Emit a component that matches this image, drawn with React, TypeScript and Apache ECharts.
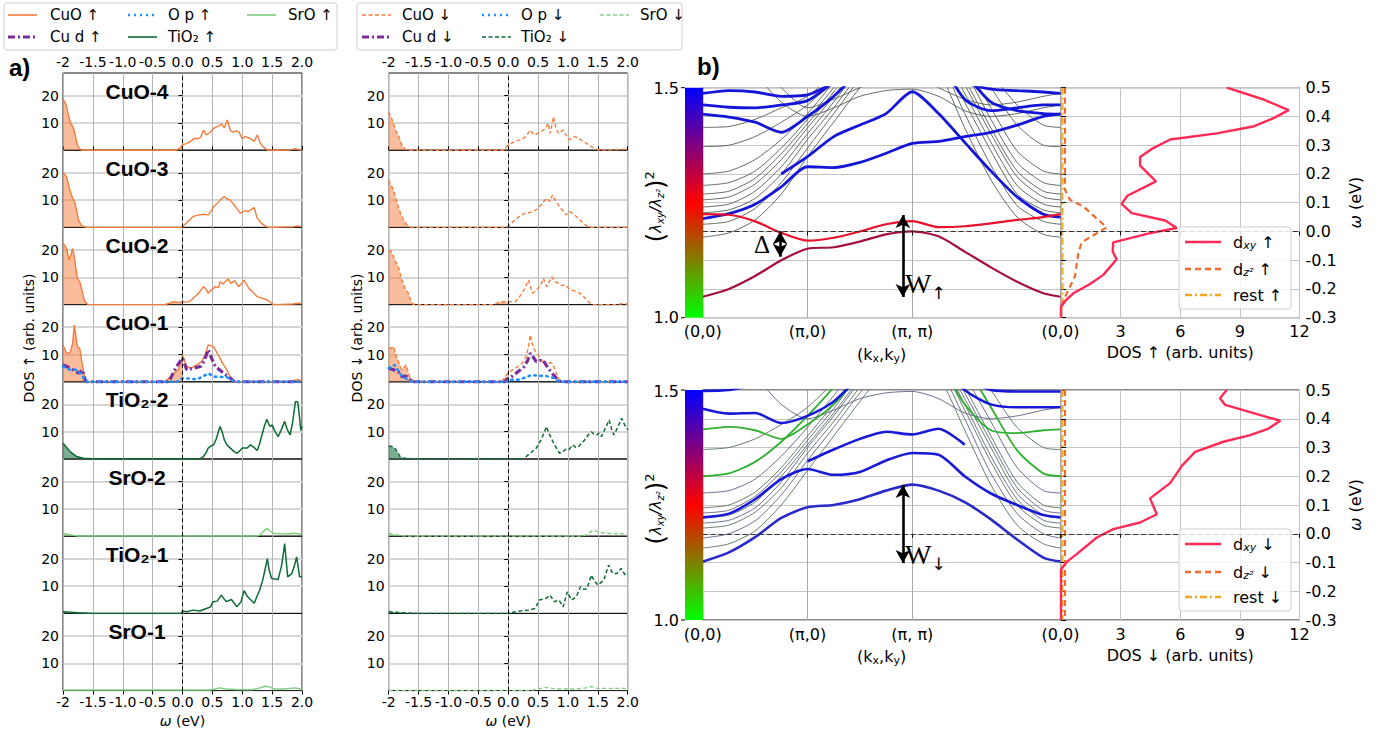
import React, { useEffect, useRef } from "react";
import * as echarts from "echarts";

// ---------------- DATA ----------------
const ROW_LABELS = ["CuO-4", "CuO-3", "CuO-2", "CuO-1", "TiO₂-2", "SrO-2", "TiO₂-1", "SrO-1"];

const cuo4Up = [[-2,18.7],[-1.95,16.8],[-1.9,12],[-1.87,9.8],[-1.83,8.4],[-1.8,6],[-1.76,2],[-1.72,0.5],[-1.68,0],[-0.1,0],[-0.04,0.8],[0,2],[0.05,2.3],[0.1,2.7],[0.15,3.5],[0.2,4.4],[0.25,4.2],[0.3,4.6],[0.35,7.3],[0.4,5.6],[0.45,6.3],[0.5,7.5],[0.55,8.4],[0.6,8.8],[0.65,9.6],[0.7,8.2],[0.75,11.1],[0.8,7.2],[0.85,6.6],[0.9,7.1],[0.95,6.5],[1.0,4.2],[1.05,5],[1.1,4.6],[1.15,4.1],[1.2,3.2],[1.25,5.6],[1.3,2.6],[1.35,1.3],[1.42,0.1],[1.5,0],[1.8,0.1],[1.88,0.6],[1.95,0.2],[2,0]];
const cuo4Dn = [[-2,14.1],[-1.96,12],[-1.92,10],[-1.89,7.4],[-1.84,5.6],[-1.78,1.9],[-1.72,0.3],[-1.68,0],[-0.08,0],[-0.03,1.3],[0.05,2.5],[0.12,3.3],[0.2,3.8],[0.27,4.5],[0.32,5.8],[0.37,7.4],[0.42,5.9],[0.45,5.6],[0.52,6.5],[0.59,7.4],[0.64,8.6],[0.67,9.9],[0.7,6.2],[0.73,9],[0.76,12.3],[0.8,8],[0.84,6.2],[0.88,6.8],[0.92,7.4],[0.97,5.5],[1.02,3.8],[1.07,4.4],[1.12,5],[1.19,4.2],[1.26,3.2],[1.35,2],[1.42,0.9],[1.48,0.3],[1.55,0],[1.85,0.2],[1.95,0.4],[2,0.3]];
const cuo3Up = [[-2,20.1],[-1.94,18.6],[-1.9,15],[-1.86,11.9],[-1.8,8.9],[-1.77,6],[-1.74,2.7],[-1.7,1],[-1.66,0.3],[-1.6,0],[-0.02,0],[0,0.3],[0.06,1.5],[0.12,2.8],[0.18,4],[0.25,4.5],[0.35,4.8],[0.43,4.6],[0.48,6],[0.52,7.6],[0.58,8.8],[0.63,10],[0.66,10.7],[0.7,11.3],[0.75,10.4],[0.8,10],[0.86,8.3],[0.92,6.6],[0.97,5.2],[1.05,6.2],[1.1,5.8],[1.15,6.5],[1.2,7.3],[1.25,3.4],[1.32,1.5],[1.4,0.3],[1.45,0],[1.85,0.2],[1.92,0.5],[2,0.3]];
const cuo3Dn = [[-2,17.4],[-1.96,15.5],[-1.92,13.7],[-1.88,10.5],[-1.84,7.6],[-1.8,5],[-1.75,2.7],[-1.7,1],[-1.67,0.5],[-1.62,0],[-0.03,0],[0,0.5],[0.1,2.5],[0.2,4.2],[0.28,5.2],[0.35,5.4],[0.42,5.8],[0.5,7],[0.57,8.8],[0.64,10.7],[0.7,9.5],[0.74,11.9],[0.8,9.5],[0.86,7.6],[0.92,6],[0.97,4.6],[1.03,5.8],[1.08,5],[1.14,4],[1.22,2.3],[1.3,0.8],[1.36,0.2],[1.42,0],[2,0]];
const cuo2Up = [[-2,22.5],[-1.94,20.6],[-1.9,16.4],[-1.87,18],[-1.84,20.6],[-1.82,18.8],[-1.79,14],[-1.76,9.6],[-1.72,8.4],[-1.68,5],[-1.65,2],[-1.62,0.7],[-1.58,0],[-0.3,0],[-0.2,0.6],[-0.15,1.1],[-0.05,0.8],[0,1.1],[0.06,0.9],[0.12,1.1],[0.18,2.3],[0.24,3.5],[0.3,5],[0.35,6.6],[0.4,5.4],[0.43,4.2],[0.49,5.5],[0.55,6.6],[0.6,6.2],[0.63,8.4],[0.68,7.5],[0.72,8.5],[0.76,9.4],[0.81,7.8],[0.87,8.8],[0.94,6.6],[0.98,7.5],[1.03,9],[1.07,7.5],[1.11,6],[1.18,4.5],[1.25,2.9],[1.35,2.2],[1.42,1.7],[1.5,0.2],[1.55,0],[1.85,0.2],[1.95,0.5],[2,0.3]];
const cuo2Dn = [[-2,20],[-1.96,19.5],[-1.92,17.6],[-1.88,15.5],[-1.84,13.9],[-1.78,9],[-1.72,5.4],[-1.67,4.2],[-1.63,1.5],[-1.6,0.2],[-1.55,0],[-0.25,0],[-0.15,0.8],[-0.1,1.1],[0,1],[0.08,1.1],[0.12,1.1],[0.18,2.5],[0.23,4.2],[0.28,6],[0.34,9],[0.38,6],[0.41,4.2],[0.46,5.2],[0.5,6],[0.55,7.5],[0.59,9.6],[0.62,7.5],[0.65,6.6],[0.69,8.5],[0.73,10.2],[0.78,8.5],[0.84,7.8],[0.9,7],[0.95,7.2],[1.0,6.2],[1.06,5.4],[1.13,4.8],[1.2,4.2],[1.28,2.5],[1.37,0.5],[1.42,0],[1.8,0],[1.9,0.3],[2,0.2]];
const cuo1Up = [[-2,13.5],[-1.97,12],[-1.94,10.5],[-1.88,10.7],[-1.84,14],[-1.81,20.8],[-1.78,16],[-1.76,12.9],[-1.72,12.3],[-1.68,6.8],[-1.65,3],[-1.63,0.7],[-1.6,0],[-0.3,0],[-0.26,0.7],[-0.2,1.8],[-0.15,3.1],[-0.07,4.4],[-0.03,6.5],[0,9.8],[0.03,8],[0.07,5.6],[0.15,5],[0.2,5.8],[0.24,6.2],[0.32,7.4],[0.38,10],[0.43,13.5],[0.48,13.2],[0.52,12.9],[0.58,10.5],[0.63,8.6],[0.68,6.5],[0.74,4.4],[0.8,2],[0.85,0.7],[0.9,0],[1.8,0],[1.88,0.6],[1.93,0.8],[2,0.3]];
const cudUp = [[-2,6.2],[-1.94,5.6],[-1.88,5],[-1.83,4.4],[-1.78,3.8],[-1.74,3.1],[-1.68,4.4],[-1.65,2.5],[-1.63,0.7],[-1.6,0],[-0.25,0],[-0.2,1.3],[-0.1,5.6],[-0.04,7.5],[0,8.6],[0.03,7],[0.07,4.4],[0.18,5],[0.3,5.6],[0.36,7.5],[0.43,11.7],[0.48,9],[0.55,5.6],[0.66,3.7],[0.8,1.3],[0.85,0.3],[0.9,0],[2,0]];
const opUp = [[-2,5.6],[-1.88,4.4],[-1.77,4.4],[-1.68,2.5],[-1.63,0.3],[-1.6,0],[-0.1,0],[0,1.3],[0.12,1.2],[0.24,0.9],[0.33,1.8],[0.43,3.1],[0.52,1.9],[0.62,1.8],[0.74,1.7],[0.85,0.3],[0.9,0],[2,0]];
const cuo1Dn = [[-2,12.3],[-1.95,12.5],[-1.92,12.9],[-1.87,9.2],[-1.82,6.5],[-1.78,4.4],[-1.71,6.2],[-1.65,1.9],[-1.59,0.3],[-1.55,0],[-0.12,0],[-0.09,0.7],[-0.03,2.5],[0.02,3.7],[0.1,4.6],[0.16,5.6],[0.24,7],[0.3,9.2],[0.34,13],[0.37,17.2],[0.4,14],[0.44,11.7],[0.52,9.2],[0.58,7.5],[0.64,5.6],[0.69,7],[0.74,6.8],[0.8,3.5],[0.86,0.3],[0.9,0],[2,0]];
const cudDn = [[-2,5],[-1.92,4.4],[-1.84,3.7],[-1.78,1.9],[-1.71,2.1],[-1.64,0.7],[-1.6,0],[-0.05,0],[-0.03,0.9],[0.05,1.8],[0.13,3.1],[0.2,4.3],[0.27,5.6],[0.33,8],[0.37,10.5],[0.42,9],[0.47,7.4],[0.53,7.8],[0.58,8],[0.67,5],[0.74,3],[0.81,1.3],[0.86,0.3],[0.9,0],[2,0]];
const opDn = [[-2,5],[-1.9,6.2],[-1.84,4],[-1.78,2.1],[-1.7,1],[-1.64,0.3],[-1.6,0],[0,0],[0.02,0.7],[0.16,0.7],[0.28,1.5],[0.39,2.5],[0.5,2.2],[0.64,2.1],[0.75,1.5],[0.81,0.7],[0.86,0],[2,0]];
const tio2b2Up = [[-2,5.8],[-1.95,4.5],[-1.88,2.7],[-1.8,1.3],[-1.77,0.9],[-1.66,0.3],[-1.5,0.1],[0.3,0.1],[0.35,0.9],[0.4,2.5],[0.43,4],[0.48,4.8],[0.52,5.2],[0.57,7.6],[0.6,10],[0.63,11.9],[0.67,9.5],[0.7,7],[0.75,5],[0.8,4],[0.86,2.8],[0.91,2.1],[0.96,3],[1.0,4],[1.08,4],[1.14,5.2],[1.2,4.2],[1.25,3.1],[1.29,5.5],[1.33,8.8],[1.37,12],[1.41,14.6],[1.44,13],[1.47,11.9],[1.5,12.5],[1.55,10],[1.6,8.2],[1.65,10.5],[1.71,13.8],[1.75,11],[1.8,8.8],[1.84,13],[1.89,21],[1.93,21],[1.96,15],[1.98,10.5],[2,11.9]];
const tio2b2Dn = [[-2,4.8],[-1.95,4.6],[-1.9,4],[-1.85,2.5],[-1.81,0.9],[-1.75,0.3],[-1.6,0.1],[0.25,0.1],[0.3,0.9],[0.38,2.3],[0.47,4],[0.55,7],[0.6,9.5],[0.64,11.9],[0.68,9.5],[0.72,7.6],[0.78,5],[0.86,2.1],[0.92,2.8],[0.97,3.6],[1.02,3.5],[1.08,5.2],[1.13,4.3],[1.17,4.3],[1.22,5.6],[1.28,7],[1.34,8.8],[1.39,10],[1.43,9.2],[1.48,8.8],[1.52,9.5],[1.56,8.2],[1.62,11],[1.69,14.3],[1.73,11],[1.77,8.8],[1.83,11.5],[1.9,14.9],[1.95,12.5],[2,10.7]];
const sro2Up = [[-2,1.1],[-1.9,0.6],[-1.77,0.1],[1.25,0.1],[1.3,0.5],[1.36,1.8],[1.41,2.9],[1.46,2],[1.52,1.1],[1.65,0.9],[1.75,0.8],[1.86,1.1],[1.93,0.9],[2,0.7]];
const sro2Dn = [[-2,1.1],[-1.9,0.6],[-1.75,0.1],[1.25,0.1],[1.31,0.5],[1.38,1.6],[1.43,2.3],[1.48,1.8],[1.54,1.3],[1.7,1],[1.85,0.9],[2,0.8]];
const tio2b1Up = [[-2,0.6],[-1.75,0.2],[-1.5,0],[-0.02,0],[0,0.9],[0.07,0.6],[0.18,1.2],[0.29,0.9],[0.4,1.8],[0.47,2.4],[0.51,4.3],[0.58,4.5],[0.65,6.7],[0.73,4.3],[0.82,5.1],[0.91,2.4],[0.98,4.3],[1.03,8.3],[1.09,6.1],[1.2,3.7],[1.29,8.5],[1.34,12],[1.38,15.9],[1.42,20.1],[1.45,16],[1.49,12.8],[1.55,12.6],[1.6,12.4],[1.66,17.7],[1.71,25.6],[1.76,13.4],[1.83,14.6],[1.88,18],[1.91,20.7],[1.96,13.4],[2,13.4]];
const tio2b1Dn = [[-2,0.6],[-1.75,0.2],[-1.5,0],[0.0,0],[0.02,0.2],[0.2,0.9],[0.35,1.2],[0.45,1.8],[0.52,4.9],[0.63,5.5],[0.7,6.7],[0.77,4.3],[0.85,4.9],[0.92,2.4],[0.99,7.9],[1.06,4.9],[1.14,6.1],[1.21,9.8],[1.27,8.8],[1.32,9.1],[1.39,14],[1.44,12],[1.5,10.4],[1.6,12.2],[1.68,17.7],[1.75,14.6],[1.82,14.6],[1.89,16.5],[1.96,14],[2,14.6]];
const sro1Up = [[-2,0.2],[0.45,0.2],[0.55,0.6],[0.62,1],[0.73,0.6],[0.9,0.4],[1.16,0.3],[1.3,1],[1.38,1.6],[1.45,1.4],[1.53,0.6],[1.7,0.6],[1.89,1],[2,0.5]];
const sro1Dn = [[-2,0.1],[0.4,0.1],[0.49,0.6],[0.63,1.2],[0.75,0.8],[0.85,0.6],[1.14,0.6],[1.3,1],[1.39,1.5],[1.5,0.8],[2,0.8]];

// band structure: k path (0,0)->(pi,0)->(pi,pi)->(0,0)
const K = [0, 0.25, 0.5, 0.75, 1, 1.25, 1.5, 1.75, 2, 2.25, 2.5, 2.75, 3, 3.25, 3.414];
const K_TICKS = [0, 1, 2, 3.414];
const K_LABELS = ["(0,0)", "(π,0)", "(π, π)", "(0,0)"];

const redLowUp = [-0.227, -0.2, -0.155, -0.1, -0.06, -0.055, -0.035, -0.01, 0.0, -0.017, -0.07, -0.125, -0.175, -0.215, -0.227];
const redHighUp = [0.06, 0.058, 0.035, -0.005, -0.032, -0.022, 0.0, 0.025, 0.036, 0.015, 0.018, 0.028, 0.04, 0.05, 0.06];
const blueUp = [
  [0.045, 0.062, 0.095, 0.155, 0.225, 0.222, 0.24, 0.272, 0.306, 0.313, 0.33, 0.345, 0.37, 0.4, 0.408],
  [null, null, null, 0.2, 0.26, 0.33, 0.37, 0.41, 0.486, 0.41, 0.31, 0.21, 0.12, 0.06, 0.05],
  [0.48, 0.49, 0.485, 0.47, 0.475, 0.52, 0.6, 0.65, 0.7, 0.6, 0.52, 0.495, 0.49, 0.485, 0.48],
  [0.44, 0.432, 0.43, 0.44, 0.455, 0.52, 0.6, 0.65, 0.7, 0.6, 0.46, 0.42, 0.43, 0.44, 0.44],
  [0.408, 0.398, 0.38, 0.345, 0.4, 0.47, 0.56, 0.65, 0.7, 0.65, 0.55, 0.45, 0.42, 0.41, 0.408],
];
const grayUp = [
  [-0.02, -0.005, 0.04, 0.13, 0.26, 0.38, 0.5, 0.6, 0.65, 0.56, 0.36, 0.18, 0.05, -0.01, -0.02],
  [0.025, 0.035, 0.08, 0.17, 0.29, 0.41, 0.53, 0.63, 0.68, 0.6, 0.41, 0.23, 0.09, 0.035, 0.025],
  [0.065, 0.075, 0.115, 0.2, 0.32, 0.43, 0.55, 0.65, 0.7, 0.62, 0.45, 0.28, 0.13, 0.075, 0.065],
  [0.085, 0.095, 0.14, 0.225, 0.34, 0.45, 0.57, 0.67, 0.72, 0.64, 0.48, 0.31, 0.16, 0.095, 0.085],
  [0.11, 0.12, 0.165, 0.25, 0.36, 0.47, 0.59, 0.69, 0.74, 0.66, 0.51, 0.34, 0.19, 0.12, 0.11],
  [0.13, 0.14, 0.185, 0.27, 0.375, 0.485, 0.6, 0.7, 0.75, 0.68, 0.53, 0.36, 0.21, 0.14, 0.13],
  [0.16, 0.17, 0.21, 0.29, 0.39, 0.5, 0.62, 0.72, 0.77, 0.7, 0.56, 0.39, 0.24, 0.17, 0.16],
  [0.2, 0.21, 0.25, 0.32, 0.41, 0.52, 0.64, 0.74, 0.79, 0.72, 0.59, 0.43, 0.28, 0.21, 0.2],
  [0.295, 0.3, 0.33, 0.38, 0.44, 0.53, 0.65, 0.75, 0.8, 0.74, 0.63, 0.5, 0.37, 0.3, 0.295],
  [0.362, 0.365, 0.39, 0.43, 0.47, 0.55, 0.66, 0.76, 0.82, 0.76, 0.66, 0.55, 0.44, 0.37, 0.362],
  [0.75, 0.66, 0.55, 0.45, 0.4, 0.43, 0.47, 0.49, 0.495, 0.47, 0.42, 0.4, 0.41, 0.43, 0.44],
  [0.8, 0.7, 0.6, 0.5, 0.43, 0.46, 0.5, 0.53, 0.55, 0.5, 0.46, 0.44, 0.45, 0.47, 0.48],
];

const blueDn = [
  [-0.097, -0.065, -0.012, 0.055, 0.092, 0.1, 0.12, 0.15, 0.171, 0.15, 0.11, 0.05, -0.02, -0.083, -0.097],
  [0.057, 0.07, 0.12, 0.19, 0.225, 0.205, 0.215, 0.255, 0.281, 0.275, 0.2, 0.14, 0.1, 0.065, 0.057],
  [null, null, null, null, 0.252, 0.293, 0.33, 0.355, 0.345, 0.365, 0.31, null, null, null, null],
  [0.435, 0.418, 0.42, 0.385, 0.41, 0.46, 0.55, 0.65, 0.7, 0.6, 0.5, 0.45, 0.44, 0.44, 0.44],
  [0.497, 0.5, 0.52, 0.55, 0.6, 0.65, 0.7, 0.75, 0.8, 0.7, 0.55, 0.5, 0.495, 0.495, 0.495],
];
const greenDn = [
  [0.363, 0.372, 0.36, 0.33, 0.38, 0.45, 0.55, 0.65, 0.7, 0.6, 0.45, 0.36, 0.35, 0.36, 0.363],
  [0.2, 0.21, 0.25, 0.32, 0.41, 0.51, 0.63, 0.73, 0.78, 0.72, 0.59, 0.44, 0.29, 0.21, 0.2],
];
const grayDn = [
  [-0.05, -0.035, 0.01, 0.1, 0.22, 0.34, 0.46, 0.57, 0.63, 0.55, 0.36, 0.17, 0.03, -0.035, -0.05],
  [-0.015, 0.0, 0.045, 0.135, 0.255, 0.37, 0.49, 0.6, 0.66, 0.58, 0.4, 0.21, 0.07, 0.0, -0.015],
  [0.02, 0.03, 0.075, 0.16, 0.28, 0.39, 0.51, 0.62, 0.68, 0.6, 0.43, 0.25, 0.1, 0.03, 0.02],
  [0.037, 0.047, 0.09, 0.18, 0.3, 0.41, 0.53, 0.64, 0.7, 0.62, 0.45, 0.27, 0.12, 0.047, 0.037],
  [0.055, 0.065, 0.11, 0.2, 0.31, 0.42, 0.54, 0.65, 0.71, 0.63, 0.47, 0.3, 0.14, 0.065, 0.055],
  [0.072, 0.082, 0.13, 0.215, 0.325, 0.435, 0.56, 0.66, 0.72, 0.65, 0.49, 0.32, 0.16, 0.082, 0.072],
  [0.09, 0.1, 0.145, 0.23, 0.34, 0.45, 0.57, 0.67, 0.73, 0.66, 0.51, 0.34, 0.18, 0.1, 0.09],
  [0.142, 0.15, 0.19, 0.27, 0.37, 0.48, 0.6, 0.7, 0.76, 0.69, 0.55, 0.39, 0.23, 0.15, 0.142],
  [0.293, 0.3, 0.33, 0.38, 0.44, 0.53, 0.65, 0.75, 0.8, 0.74, 0.63, 0.5, 0.37, 0.3, 0.293],
  [0.75, 0.66, 0.55, 0.45, 0.4, 0.43, 0.47, 0.49, 0.495, 0.47, 0.42, 0.4, 0.41, 0.43, 0.44],
];

// orbital-resolved DOS [DOS, omega]
const dxyUp = [[8.34,0.5],[10.19,0.459],[11.45,0.422],[10.72,0.395],[9.72,0.366],[7.84,0.341],[5.49,0.32],[4.57,0.287],[3.98,0.259],[3.98,0.229],[4.78,0.174],[3.34,0.124],[3.05,0.096],[3.56,0.064],[5.24,0.038],[5.82,0.012],[4.48,-0.006],[2.63,-0.038],[2.6,-0.07],[2.8,-0.097],[2.13,-0.151],[1.46,-0.183],[0.62,-0.215],[0.29,-0.236],[0,-0.262],[0,-0.3]];
const dz2Up = [[0.2,0.5],[0.2,0.145],[0.45,0.11],[1.12,0.087],[1.88,0.04],[2.3,0.014],[1.8,-0.006],[1.04,-0.038],[0.87,-0.076],[0.7,-0.157],[0.29,-0.215],[0,-0.262],[0,-0.3]];
const restUp = [[0.07,0.5],[0.07,-0.25],[0,-0.3]];
const dxyDn = [[8.34,0.5],[8.0,0.471],[8.26,0.448],[11.03,0.393],[10.44,0.366],[9.52,0.343],[8.17,0.32],[6.75,0.285],[6.08,0.236],[5.49,0.176],[4.48,0.123],[4.82,0.068],[3.98,0.039],[2.63,0.016],[1.8,-0.013],[0.79,-0.071],[0.29,-0.098],[0,-0.124],[0,-0.3]];
const dz2Dn = [[0.2,0.5],[0.2,-0.3]];
const restDn = [[0.07,0.5],[0.07,-0.3]];

const UP_PANELS = [
  [{ kind: "CuO", data: cuo4Up }],
  [{ kind: "CuO", data: cuo3Up }],
  [{ kind: "CuO", data: cuo2Up }],
  [{ kind: "CuO", data: cuo1Up }, { kind: "Cud", data: cudUp }, { kind: "Op", data: opUp }],
  [{ kind: "TiO2", data: tio2b2Up }],
  [{ kind: "SrO", data: sro2Up }],
  [{ kind: "TiO2", data: tio2b1Up }],
  [{ kind: "SrO", data: sro1Up }],
];
const DN_PANELS = [
  [{ kind: "CuO", data: cuo4Dn }],
  [{ kind: "CuO", data: cuo3Dn }],
  [{ kind: "CuO", data: cuo2Dn }],
  [{ kind: "CuO", data: cuo1Dn }, { kind: "Cud", data: cudDn }, { kind: "Op", data: opDn }],
  [{ kind: "TiO2", data: tio2b2Dn }],
  [{ kind: "SrO", data: sro2Dn }],
  [{ kind: "TiO2", data: tio2b1Dn }],
  [{ kind: "SrO", data: sro1Dn }],
];

// ---------------- STYLE ----------------
const F = "DejaVu Sans";
const C = {
  CuO: { color: "#f47c3c", width: 1.4, fill: "rgba(244,124,60,0.5)" },
  Cud: { color: "#7b2d9e", width: 3.2, dash: [7, 3, 2, 3] },
  Op: { color: "#1e90ff", width: 2.6, dash: [1.5, 4.5] },
  TiO2: { color: "#0e6b36", width: 1.5, fill: "rgba(14,107,54,0.55)" },
  SrO: { color: "#7fcf7f", width: 1.4, fill: "rgba(127,207,127,0.5)" },
} as any;
const DXY = "#ff2a55", DZ2 = "#f26a2e", REST = "#f5a623";

const ROW_TOP = 73, ROW_H = 77.2, COL_L = [63, 388.7], COL_W = 239;
const BAND_L = 702.7, BAND_W = 357.8, DOS_L = 1061, DOS_W = 238.5, BAND_H = 230;
const BAND_TOPS = [87.7, 390];

function fmtTick(v: number) {
  if (Math.abs(v + 2) < 1e-6) return "-2";
  return (Math.abs(v) < 1e-9 ? 0 : v).toFixed(1);
}

function buildOption() {
  const grid: any[] = [], xAxis: any[] = [], yAxis: any[] = [], series: any[] = [];
  const axisText = { color: "#000", fontFamily: F };

  // left DOS panels
  for (let c = 0; c < 2; c++) {
    for (let r = 0; r < 8; r++) {
      const gi = c * 8 + r;
      grid.push({ left: COL_L[c], top: ROW_TOP + r * ROW_H, width: COL_W, height: ROW_H, show: true, borderColor: "#111", borderWidth: 1, backgroundColor: "rgba(0,0,0,0)", containLabel: false, outerBoundsMode: "none" });
      const edge = r === 0 || r === 7;
      xAxis.push({
        gridIndex: gi, type: "value", min: -2, max: 2, interval: 0.5, position: r === 0 ? "top" : "bottom",
        axisLine: { show: false },
        axisTick: { show: edge, length: 4, lineStyle: { color: "#000" } },
        axisLabel: { show: edge, formatter: fmtTick, fontSize: 14, margin: 4, ...axisText },
        splitLine: { show: true, lineStyle: { color: "#b4b4b4", width: 1 } },
        name: r === 7 ? "{i|ω} (eV)" : "", nameLocation: "middle", nameGap: 23,
        nameTextStyle: { fontSize: 14, ...axisText, rich: { i: { fontStyle: "italic", fontSize: 14, fontFamily: F } } },
      });
      yAxis.push({
        gridIndex: gi, type: "value", min: 0, max: 28.3, interval: 10,
        axisLine: { show: false },
        axisTick: { show: true, length: 4, lineStyle: { color: "#000" }, customValues: [10, 20] },
        axisLabel: { formatter: (v: number) => (v === 10 || v === 20 ? String(v) : ""), fontSize: 14, margin: 4, customValues: [10, 20], ...axisText },
        splitLine: { show: true, lineStyle: { color: "#d6d6d6", width: 1.8 } },
      });
      const curves = (c === 0 ? UP_PANELS : DN_PANELS)[r];
      const down = c === 1;
      curves.forEach((cv: any, j: number) => {
        const st = C[cv.kind];
        const type = st.dash ? st.dash : down ? [4, 2.5] : "solid";
        if (st.fill) {
          series.push({
            type: "line", xAxisIndex: gi, yAxisIndex: gi, silent: true, symbol: "none", z: 1,
            data: cv.data.filter((p: number[]) => p[0] <= 0.001),
            lineStyle: { width: 0, opacity: 0 }, areaStyle: { color: st.fill, opacity: 1 },
          });
        }
        const s: any = {
          type: "line", xAxisIndex: gi, yAxisIndex: gi, silent: true, symbol: "none", z: 2 + j,
          data: cv.data, lineStyle: { color: st.color, width: st.width, type, cap: cv.kind === "Op" ? "round" : "butt" },
        };
        if (j === 0) {
          s.markLine = { silent: true, symbol: "none", label: { show: false }, lineStyle: { color: "#000", type: [4, 3], width: 1 }, data: [{ xAxis: 0 }] };
        }
        series.push(s);
      });
    }
  }

  // band + DOS panels
  for (let p = 0; p < 2; p++) {
    const bi = grid.length;
    grid.push({ left: BAND_L, top: BAND_TOPS[p], width: BAND_W, height: BAND_H, show: true, borderColor: "#111", borderWidth: 1, backgroundColor: "rgba(0,0,0,0)", outerBoundsMode: "none" });
    xAxis.push({
      gridIndex: bi, type: "value", min: 0, max: 3.414, interval: 1,
      axisLine: { show: false },
      axisTick: { show: true, length: 4, customValues: K_TICKS, lineStyle: { color: "#000" } },
      axisLabel: {
        customValues: K_TICKS, fontSize: 16, margin: 6, ...axisText,
        formatter: (v: number) => { const i = K_TICKS.findIndex((t) => Math.abs(t - v) < 0.01); return i >= 0 ? K_LABELS[i] : ""; },
      },
      splitLine: { show: true, lineStyle: { color: "#a8a8a8", width: 1 } },
      name: "(k{s|x},k{s|y})", nameLocation: "middle", nameGap: 27,
      nameTextStyle: { fontSize: 16, ...axisText, rich: { s: { fontSize: 11, fontFamily: F, padding: [8, 0, 0, 0] } } },
    });
    yAxis.push({
      gridIndex: bi, type: "value", min: -0.3, max: 0.5, interval: 0.1,
      axisLine: { show: false }, axisTick: { show: false }, axisLabel: { show: false },
      splitLine: { show: true, lineStyle: { color: "#c4c4c4", width: 1 } },
    });
    const di = grid.length;
    grid.push({ left: DOS_L, top: BAND_TOPS[p], width: DOS_W, height: BAND_H, show: true, borderColor: "#111", borderWidth: 1, backgroundColor: "rgba(0,0,0,0)", outerBoundsMode: "none" });
    xAxis.push({
      gridIndex: di, type: "value", min: 0, max: 12, interval: 3,
      axisLine: { show: false }, axisTick: { show: true, length: 4, lineStyle: { color: "#000" } },
      axisLabel: { formatter: (v: number) => (v === 0 ? "" : String(v)), fontSize: 16, margin: 6, ...axisText },
      splitLine: { show: true, lineStyle: { color: "#c4c4c4", width: 1 } },
      name: p === 0 ? "DOS ↑ (arb. units)" : "DOS ↓ (arb. units)", nameLocation: "middle", nameGap: 27,
      nameTextStyle: { fontSize: 16, ...axisText },
    });
    yAxis.push({
      gridIndex: di, type: "value", position: "right", min: -0.3, max: 0.5, interval: 0.1,
      axisLine: { show: false }, axisTick: { show: true, length: 5, lineStyle: { color: "#000" } },
      axisLabel: { formatter: (v: number) => (Math.abs(v) < 1e-9 ? "0.0" : v.toFixed(1)), fontSize: 16, margin: 6, ...axisText },
      splitLine: { show: true, lineStyle: { color: "#c4c4c4", width: 1 } },
      name: "{i|ω} (eV)", nameLocation: "middle", nameGap: 48, nameRotate: 90,
      nameTextStyle: { fontSize: 16, ...axisText, rich: { i: { fontStyle: "italic", fontSize: 16, fontFamily: F } } },
    });

    const band = (arr: any[], color: string, width: number, z: number, extra?: any) => ({
      type: "line", xAxisIndex: bi, yAxisIndex: bi, silent: true, symbol: "none", smooth: 0.25, z,
      data: K.map((k, i) => [k, arr[i]]), lineStyle: { color, width }, ...(extra || {}),
    });
    const fermi = { silent: true, symbol: "none", label: { show: false }, lineStyle: { color: "#333", type: [5, 3], width: 1.2 }, data: [{ yAxis: 0 }] };
    const arrowML = (lines: number[][]) => ({
      silent: true, symbol: ["arrow", "arrow"], symbolSize: [11, 13], label: { show: false },
      lineStyle: { color: "#000", type: "solid", width: 2.6 },
      data: lines.map((l) => [{ coord: [l[0], l[1]] }, { coord: [l[0], l[2]] }]),
    });

    if (p === 0) {
      grayUp.forEach((g, i) => series.push(band(g, "#4f5e4f", 0.9, 2, i === 0 ? { markLine: fermi } : undefined)));
      blueUp.forEach((b) => series.push(band(b, "#1515d8", 2.8, 3)));
      series.push(band(redLowUp, "#a3103e", 2.2, 4));
      series.push(band(redHighUp, "#e8102a", 2.2, 4, { markLine: arrowML([[1.91, 0.057, -0.228], [0.738, 0.0, -0.088]]) }));
    } else {
      grayDn.forEach((g, i) => series.push(band(g, i % 2 === 0 ? "#55705a" : "#5d5d85", 0.9, 2, i === 0 ? { markLine: fermi } : undefined)));
      greenDn.forEach((g) => series.push(band(g, "#2fb02f", 1.8, 3)));
      blueDn.forEach((b, i) => series.push(band(b, i === 0 ? "#2a2ac8" : "#1818d8", 2.6, 4, i === 0 ? { markLine: arrowML([[1.91, 0.17, -0.102]]) } : undefined)));
    }

    const dos = (data: number[][], color: string, type: any, width: number, extra?: any) => ({
      type: "line", xAxisIndex: di, yAxisIndex: di, silent: true, symbol: "none", z: 3,
      data, lineStyle: { color, width, type }, ...(extra || {}),
    });
    const dx = p === 0 ? dxyUp : dxyDn, dz = p === 0 ? dz2Up : dz2Dn, rs = p === 0 ? restUp : restDn;
    series.push(dos(rs, REST, [7, 3, 2, 3], 2));
    series.push(dos(dz, DZ2, [6, 4], 2.2));
    series.push(dos(dx, DXY, "solid", 2.4, { markLine: fermi }));
  }

  // ---------------- graphics ----------------
  const g: any[] = [];
  const txt = (x: number, y: number, text: string, o: any = {}) => ({
    type: "text", x, y, silent: true, z: 100, rotation: o.rotation || 0,
    style: { text, fontSize: o.fontSize || 13, fontFamily: o.fontFamily || F, fontWeight: o.fontWeight || "normal", fontStyle: o.fontStyle || "normal", fill: "#000", align: o.align || "left", verticalAlign: o.verticalAlign || "middle", rich: o.rich },
  });
  const seg = (x1: number, y1: number, x2: number, y2: number, color: string, w: number, dash?: number[]) => ({
    type: "line", silent: true, z: 100, shape: { x1, y1, x2, y2 }, style: { stroke: color, lineWidth: w, lineDash: dash || null },
  });
  const box = (x: number, y: number, w: number, h: number) => ({
    type: "rect", silent: true, z: 99, shape: { x, y, width: w, height: h, r: 3 }, style: { fill: "rgba(255,255,255,0.85)", stroke: "#cfcfcf", lineWidth: 1 },
  });

  g.push(txt(9, 67, "a)", { fontSize: 24, fontWeight: "bold", fontFamily: "Liberation Sans" }));
  g.push(txt(697, 66, "b)", { fontSize: 24, fontWeight: "bold", fontFamily: "Liberation Sans" }));

  // top legends
  const legs = [
    { x0: 4, w: 333, xs: [8, 128, 247], tx: [50, 168, 288], arrow: "↑", dashMain: undefined as any },
    { x0: 357, w: 325, xs: [362, 482, 600], tx: [402, 521, 640], arrow: "↓", dashMain: [4, 2.5] },
  ];
  legs.forEach((L) => {
    g.push(box(L.x0, 3, L.w, 47));
    const ent = [
      { x: L.xs[0], t0: L.tx[0], y: 15, c: C.CuO.color, w: 1.6, d: L.dashMain, t: "CuO " + L.arrow },
      { x: L.xs[0], t0: L.tx[0], y: 37, c: C.Cud.color, w: 3.2, d: [7, 3, 2, 3], t: "Cu d " + L.arrow },
      { x: L.xs[1], t0: L.tx[1], y: 15, c: C.Op.color, w: 2.6, d: [2, 4], t: "O p " + L.arrow },
      { x: L.xs[1], t0: L.tx[1], y: 37, c: C.TiO2.color, w: 1.6, d: L.dashMain, t: "TiO₂ " + L.arrow },
      { x: L.xs[2], t0: L.tx[2], y: 15, c: C.SrO.color, w: 1.6, d: L.dashMain, t: "SrO " + L.arrow },
    ];
    ent.forEach((e) => {
      g.push(seg(e.x, e.y, e.x + 29, e.y, e.c, e.w, e.d));
      g.push(txt(e.t0, e.y, e.t, { fontSize: 15 }));
    });
  });

  // row labels
  ROW_LABELS.forEach((lab, r) => {
    g.push(txt(137, ROW_TOP + r * ROW_H + 18, lab, { fontSize: 21, fontWeight: "bold", fontFamily: "Liberation Sans", align: "center" }));
  });
  g.push(txt(29, 338, "DOS ↑ (arb. units)", { fontSize: 14, align: "center", rotation: Math.PI / 2 }));
  g.push(txt(357, 338, "DOS ↓ (arb. units)", { fontSize: 14, align: "center", rotation: Math.PI / 2 }));

  // colorbars
  BAND_TOPS.forEach((top) => {
    g.push({
      type: "rect", silent: true, z: 50, shape: { x: 685, y: top, width: 18, height: BAND_H },
      style: { fill: new echarts.graphic.LinearGradient(0, 0, 0, 1, [{ offset: 0, color: "#0000ff" }, { offset: 0.5, color: "#ff0000" }, { offset: 1, color: "#00ff00" }]) },
    });
    g.push(seg(681, top, 685, top, "#000", 1));
    g.push(seg(681, top + BAND_H, 685, top + BAND_H, "#000", 1));
    g.push(txt(679, top + 1, "1.5", { fontSize: 16, align: "right" }));
    g.push(txt(679, top + BAND_H, "1.0", { fontSize: 16, align: "right" }));
    g.push(txt(656, top + 119, "{p|(}{l|λ}{s|xy}{l|/λ}{s|z²}{p|)}{u|2}", {
      align: "center", rotation: Math.PI / 2,
      rich: {
        p: { fontSize: 24, fontFamily: F },
        l: { fontSize: 15, fontFamily: F, fontStyle: "italic" },
        s: { fontSize: 10, fontFamily: F, fontStyle: "italic", padding: [9, 0, 0, 0] },
        u: { fontSize: 13, fontFamily: F, padding: [0, 0, 14, 0] },
      },
    }));
  });

  // annotations
  const wRich = { w: { fontSize: 28, fontFamily: "Liberation Serif" }, s: { fontSize: 17, fontFamily: F, padding: [20, 0, 0, 0] } };
  g.push(txt(905, 283, "{w|W}{s|↑}", { rich: wRich }));
  g.push(txt(905, 554, "{w|W}{s|↓}", { rich: wRich }));
  g.push(txt(762, 244, "Δ", { fontSize: 25, fontFamily: "Liberation Serif", align: "center" }));

  // DOS legends
  const dl = [
    { y0: 227, ys: [242, 269, 295], a: "↑" },
    { y0: 529, ys: [544, 572, 597], a: "↓" },
  ];
  const sRich = { s: { fontSize: 11, fontFamily: F, fontStyle: "italic", padding: [7, 0, 0, 0] }, n: { fontSize: 16, fontFamily: F } };
  dl.forEach((d) => {
    g.push(box(1179, d.y0, 112, 82));
    g.push(seg(1185, d.ys[0], 1221, d.ys[0], DXY, 2.4));
    g.push(seg(1185, d.ys[1], 1221, d.ys[1], DZ2, 2.4, [6, 4]));
    g.push(seg(1185, d.ys[2], 1221, d.ys[2], REST, 2.4, [7, 3, 2, 3]));
    g.push(txt(1233, d.ys[0], "{n|d}{s|xy}{n| " + d.a + "}", { fontSize: 16, rich: sRich }));
    g.push(txt(1233, d.ys[1], "{n|d}{s|z²}{n| " + d.a + "}", { fontSize: 16, rich: sRich }));
    g.push(txt(1233, d.ys[2], "rest " + d.a, { fontSize: 16 }));
  });

  return {
    animation: false,
    backgroundColor: "#ffffff",
    textStyle: { fontFamily: F },
    grid, xAxis, yAxis, series, graphic: g,
  };
}

export default function App() {
  const ref = useRef<HTMLDivElement>(null);
  useEffect(() => {
    if (!ref.current) return;
    const chart = echarts.init(ref.current, null, { renderer: "svg", width: 1395, height: 730 });
    chart.setOption(buildOption() as any);
    return () => chart.dispose();
  }, []);
  return <div ref={ref} style={{ position: "fixed", left: 0, top: 0, width: 1395, height: 730, background: "#fff" }} />;
}
